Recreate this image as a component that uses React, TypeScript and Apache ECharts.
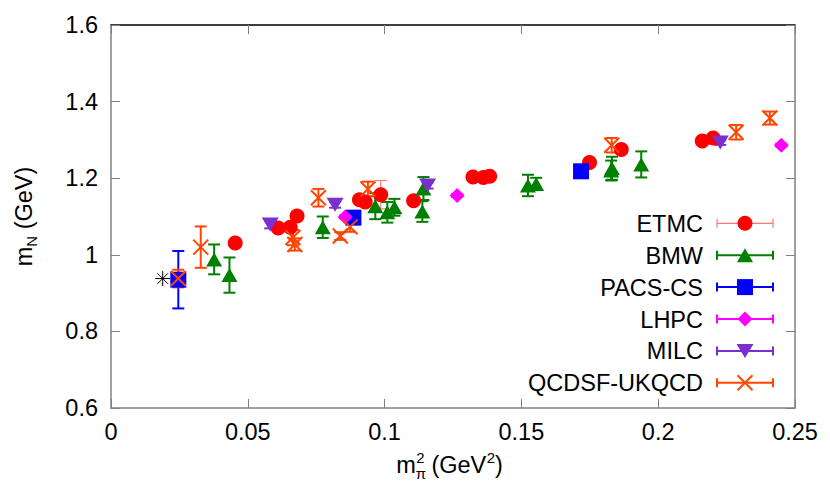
import React, { useEffect, useRef } from 'react';
import * as echarts from 'echarts';

// ---- data: [m_pi^2 (GeV^2), m_N (GeV), error] ----
const etmcPoints: [number, number, number][] = [
  [0.0454, 1.031, 0.008],
  [0.0611, 1.07, 0.01],
  [0.0655, 1.072, 0.01],
  [0.068, 1.101, 0.012],
  [0.0908, 1.144, 0.01],
  [0.0929, 1.138, 0.01],
  [0.0986, 1.157, 0.037],
  [0.1106, 1.141, 0.01],
  [0.1323, 1.203, 0.008],
  [0.1361, 1.202, 0.008],
  [0.1384, 1.205, 0.008],
  [0.1749, 1.241, 0.008],
  [0.1865, 1.275, 0.01],
  [0.2161, 1.297, 0.008],
  [0.2201, 1.305, 0.008],
];
const bmwPoints: [number, number, number][] = [
  [0.0377, 0.988, 0.039],
  [0.0433, 0.947, 0.046],
  [0.0774, 1.072, 0.028],
  [0.0966, 1.127, 0.034],
  [0.101, 1.111, 0.027],
  [0.1036, 1.124, 0.022],
  [0.1138, 1.113, 0.027],
  [0.1142, 1.173, 0.03],
  [0.1524, 1.181, 0.028],
  [0.1554, 1.185, 0.016],
  [0.1828, 1.22, 0.026],
  [0.1831, 1.226, 0.03],
  [0.1938, 1.236, 0.034],
];
const pacsPoints: [number, number, number][] = [
  [0.0246, 0.935, 0.075],
  [0.0886, 1.097, 0.012],
  [0.1718, 1.218, 0.008],
];
const lhpcPoints: [number, number, number][] = [
  [0.0856, 1.099, 0.004],
  [0.1265, 1.155, 0.004],
  [0.245, 1.286, 0.004],
];
const milcPoints: [number, number, number][] = [
  [0.0582, 1.079, 0.01],
  [0.0819, 1.131, 0.008],
  [0.1157, 1.181, 0.008],
  [0.2227, 1.293, 0.006],
];
const qcdsfPoints: [number, number, number][] = [
  [0.0246, 0.938, 0.023],
  [0.0328, 1.02, 0.054],
  [0.0665, 1.045, 0.02],
  [0.0672, 1.027, 0.016],
  [0.0758, 1.149, 0.023],
  [0.0838, 1.049, 0.01],
  [0.0874, 1.073, 0.013],
  [0.0939, 1.172, 0.019],
  [0.183, 1.286, 0.019],
  [0.2285, 1.32, 0.019],
  [0.2408, 1.357, 0.017],
];
const physicalPoint: [number, number][] = [[0.0189, 0.938]];

const legendNames = ['ETMC', 'BMW', 'PACS-CS', 'LHPC', 'MILC', 'QCDSF-UKQCD'];
const xTicks = { min: 0, max: 0.25, interval: 0.05 };
const yTicks = { min: 0.6, max: 1.6, interval: 0.2 };

// ---- styles ----
const FONT = "'Liberation Sans', Arial, Helvetica, sans-serif";
const FS = 23.5;
const SUBFS = 15;
const GRID = { left: 111, right: 35, top: 25, bottom: 90 };
const AXIS_GREY = '#808080';

type Marker = 'circle' | 'triangle' | 'square' | 'diamond' | 'invtriangle' | 'cross';
interface GroupStyle {
  color: string;
  errColor: string;
  errWidth: number;
  marker: Marker;
}
const groupStyles: GroupStyle[] = [
  { color: '#ff0000', errColor: '#ff7878', errWidth: 1.2, marker: 'circle' },
  { color: '#008000', errColor: '#008000', errWidth: 2, marker: 'triangle' },
  { color: '#0000ff', errColor: '#0000ff', errWidth: 2, marker: 'square' },
  { color: '#ff00ff', errColor: '#ff00ff', errWidth: 2, marker: 'diamond' },
  { color: '#7b2fd0', errColor: '#7b2fd0', errWidth: 2, marker: 'invtriangle' },
  { color: '#ff4500', errColor: '#ff4500', errWidth: 2, marker: 'cross' },
];
const groupData = [etmcPoints, bmwPoints, pacsPoints, lhpcPoints, milcPoints, qcdsfPoints];

const CROSS_PATH = 'path://M0 0L10 10M10 0L0 10';
const STAR_PATH = 'path://M0 5L10 5M5 0L5 10M1.5 1.5L8.5 8.5M8.5 1.5L1.5 8.5';

function scatterSymbol(m: Marker): any {
  switch (m) {
    case 'circle':
      return { symbol: 'circle', symbolSize: 15 };
    case 'triangle':
      return { symbol: 'triangle', symbolSize: [16, 14] };
    case 'square':
      return { symbol: 'rect', symbolSize: 16 };
    case 'diamond':
      return { symbol: 'diamond', symbolSize: 15 };
    case 'invtriangle':
      return { symbol: 'triangle', symbolSize: [17, 14], symbolRotate: 180 };
    case 'cross':
      return { symbol: CROSS_PATH, symbolSize: 15 };
  }
}

function legendMarker(m: Marker, cx: number, cy: number, color: string): any[] {
  switch (m) {
    case 'circle':
      return [{ type: 'circle', shape: { cx, cy, r: 7.5 }, style: { fill: color } }];
    case 'triangle':
      return [{ type: 'polygon', shape: { points: [[cx, cy - 7], [cx + 8, cy + 7], [cx - 8, cy + 7]] }, style: { fill: color } }];
    case 'square':
      return [{ type: 'rect', shape: { x: cx - 8, y: cy - 8, width: 16, height: 16 }, style: { fill: color } }];
    case 'diamond':
      return [{ type: 'polygon', shape: { points: [[cx, cy - 7.5], [cx + 7.5, cy], [cx, cy + 7.5], [cx - 7.5, cy]] }, style: { fill: color } }];
    case 'invtriangle':
      return [{ type: 'polygon', shape: { points: [[cx - 8.5, cy - 7], [cx + 8.5, cy - 7], [cx, cy + 7]] }, style: { fill: color } }];
    case 'cross':
      return [
        { type: 'line', shape: { x1: cx - 7.5, y1: cy - 7.5, x2: cx + 7.5, y2: cy + 7.5 }, style: { stroke: color, lineWidth: 2 } },
        { type: 'line', shape: { x1: cx + 7.5, y1: cy - 7.5, x2: cx - 7.5, y2: cy + 7.5 }, style: { stroke: color, lineWidth: 2 } },
      ];
  }
}

let measureCtx: CanvasRenderingContext2D | null = null;
function textWidth(t: string, fs: number): number {
  if (!measureCtx) measureCtx = document.createElement('canvas').getContext('2d');
  if (!measureCtx) return t.length * fs * 0.55;
  measureCtx.font = `${fs}px ${FONT}`;
  return measureCtx.measureText(t).width;
}

// central baseline offset for Liberation Sans (ascent .905, descent .212)
const CENTRAL = 0.3465;

function txt(text: string, x: number, baseline: number, fs: number, align = 'left'): any {
  return {
    type: 'text',
    x,
    y: baseline - CENTRAL * fs,
    silent: true,
    style: {
      text,
      fill: '#000',
      fontSize: fs,
      fontFamily: FONT,
      align,
      textAlign: align,
      verticalAlign: 'middle',
      textVerticalAlign: 'middle',
    },
  };
}

function errorBarSeries(name: string, data: [number, number, number][], st: GroupStyle): any {
  const cap = 6;
  return {
    type: 'custom',
    name: name + ' error',
    data,
    encode: { x: 0, y: 1 },
    silent: true,
    z: 2,
    renderItem: (_params: any, api: any) => {
      const x = api.value(0);
      const y = api.value(1);
      const e = api.value(2);
      const top = api.coord([x, y + e]);
      const bot = api.coord([x, y - e]);
      const style = { stroke: st.errColor, lineWidth: st.errWidth };
      return {
        type: 'group',
        children: [
          { type: 'line', shape: { x1: top[0], y1: top[1], x2: bot[0], y2: bot[1] }, style },
          { type: 'line', shape: { x1: top[0] - cap, y1: top[1], x2: top[0] + cap, y2: top[1] }, style },
          { type: 'line', shape: { x1: bot[0] - cap, y1: bot[1], x2: bot[0] + cap, y2: bot[1] }, style },
        ],
      };
    },
  };
}

function markerSeries(name: string, data: [number, number, number][], st: GroupStyle): any {
  const sym = scatterSymbol(st.marker);
  const isCross = st.marker === 'cross';
  return {
    type: 'scatter',
    name,
    data: data.map((d) => [d[0], d[1]]),
    ...sym,
    z: 3,
    silent: true,
    itemStyle: isCross
      ? { color: 'rgba(0,0,0,0)', borderColor: st.color, borderWidth: 2, opacity: 1 }
      : { color: st.color, opacity: 1 },
  };
}

function buildOption(): any {
  const series: any[] = [];
  legendNames.forEach((name, i) => {
    series.push(errorBarSeries(name, groupData[i], groupStyles[i]));
    series.push(markerSeries(name, groupData[i], groupStyles[i]));
  });
  series.push({
    type: 'scatter',
    name: 'physical point',
    data: physicalPoint,
    symbol: STAR_PATH,
    symbolSize: 15,
    z: 3,
    silent: true,
    itemStyle: { color: 'rgba(0,0,0,0)', borderColor: '#000', borderWidth: 1, opacity: 1 },
  });

  // legend (gnuplot style: right-aligned text, errorbar sample with marker)
  const legendEls: any[] = [];
  const lx = 703;
  const ly0 = 223.3;
  const ldy = 31.9;
  const sx1 = 717;
  const sx2 = 773;
  const smx = 745;
  legendNames.forEach((name, i) => {
    const cy = ly0 + i * ldy;
    const st = groupStyles[i];
    const ls = { stroke: st.errColor, lineWidth: st.errWidth };
    legendEls.push({ type: 'text', x: lx, y: cy + 0.5, silent: true, style: { text: name, fill: '#000', fontSize: FS, fontFamily: FONT, align: 'right', textAlign: 'right', verticalAlign: 'middle', textVerticalAlign: 'middle' } });
    legendEls.push({ type: 'line', shape: { x1: sx1, y1: cy, x2: sx2, y2: cy }, style: ls });
    legendEls.push({ type: 'line', shape: { x1: sx1, y1: cy - 4.5, x2: sx1, y2: cy + 4.5 }, style: ls });
    legendEls.push({ type: 'line', shape: { x1: sx2, y1: cy - 4.5, x2: sx2, y2: cy + 4.5 }, style: ls });
    legendEls.push(...legendMarker(st.marker, smx, cy, st.color));
  });

  // x axis title: m^2_pi (GeV^2)
  const xBase = 473;
  const wm = textWidth('m', FS);
  const w2 = textWidth('2', SUBFS);
  const wpi = textWidth('π', SUBFS);
  const wGeV = textWidth('(GeV', FS);
  const wSp = textWidth(' ', FS);
  const wClose = textWidth(')', FS);
  const xTotal = wm + Math.max(w2, wpi) + wSp + wGeV + w2 + wClose;
  const plotCenterX = GRID.left + (830 - GRID.left - GRID.right) / 2;
  let xx = plotCenterX - xTotal / 2 - 3;
  const xTitle: any[] = [];
  xTitle.push(txt('m', xx, xBase, FS));
  xx += wm;
  xTitle.push(txt('2', xx + 0.5, xBase - 10, SUBFS));
  xTitle.push(txt('π', xx, xBase + 5.5, SUBFS));
  xx += Math.max(w2, wpi) + wSp * 0.8;
  xTitle.push(txt('(GeV', xx, xBase, FS));
  xx += wGeV;
  xTitle.push(txt('2', xx + 0.5, xBase - 10, SUBFS));
  xx += w2 + 0.5;
  xTitle.push(txt(')', xx, xBase, FS));

  // y axis title: m_N (GeV), rotated
  const wN = textWidth('N', SUBFS);
  const wRest = textWidth(' (GeV)', FS);
  const yTotal = wm + wN + wRest;
  const plotCenterY = GRID.top + (498 - GRID.top - GRID.bottom) / 2;
  let ly = -yTotal / 2;
  const yChildren: any[] = [];
  yChildren.push(txt('m', ly, 0, FS));
  ly += wm;
  yChildren.push(txt('N', ly, 5, SUBFS));
  ly += wN;
  yChildren.push(txt(' (GeV)', ly, 0, FS));

  const axisLabel = { color: '#000', fontSize: FS, fontFamily: FONT };

  return {
    animation: false,
    backgroundColor: '#ffffff',
    textStyle: { fontFamily: FONT },
    grid: { left: GRID.left, right: GRID.right, top: GRID.top, bottom: GRID.bottom, containLabel: false },
    xAxis: [
      {
        type: 'value',
        position: 'bottom',
        min: xTicks.min,
        max: xTicks.max,
        interval: xTicks.interval,
        axisLine: { show: true, onZero: false, lineStyle: { color: AXIS_GREY, width: 1.5 } },
        axisTick: { show: true, inside: true, length: 9, lineStyle: { color: AXIS_GREY, width: 1 } },
        axisLabel: { ...axisLabel, margin: 12, formatter: (v: number) => String(+v.toFixed(2)) },
        splitLine: { show: false },
      },
      {
        type: 'value',
        position: 'top',
        min: xTicks.min,
        max: xTicks.max,
        interval: xTicks.interval,
        axisLine: { show: true, onZero: false, lineStyle: { color: '#000', width: 1.5 } },
        axisTick: { show: true, inside: true, length: 9, lineStyle: { color: AXIS_GREY, width: 1 } },
        axisLabel: { show: false },
        splitLine: { show: false },
      },
    ],
    yAxis: [
      {
        type: 'value',
        position: 'left',
        min: yTicks.min,
        max: yTicks.max,
        interval: yTicks.interval,
        axisLine: { show: true, onZero: false, lineStyle: { color: AXIS_GREY, width: 1.5 } },
        axisTick: { show: true, inside: true, length: 9, lineStyle: { color: AXIS_GREY, width: 1 } },
        axisLabel: { ...axisLabel, margin: 13, formatter: (v: number) => String(+v.toFixed(1)) },
        splitLine: { show: false },
      },
      {
        type: 'value',
        position: 'right',
        min: yTicks.min,
        max: yTicks.max,
        interval: yTicks.interval,
        axisLine: { show: true, onZero: false, lineStyle: { color: AXIS_GREY, width: 1.5 } },
        axisTick: { show: true, inside: true, length: 9, lineStyle: { color: AXIS_GREY, width: 1 } },
        axisLabel: { show: false },
        splitLine: { show: false },
      },
    ],
    series,
    graphic: [
      { type: 'group', silent: true, children: legendEls },
      { type: 'group', silent: true, children: xTitle },
      { type: 'group', silent: true, x: 32, y: plotCenterY, rotation: Math.PI / 2, children: yChildren },
    ],
  };
}

export default function App() {
  const ref = useRef<HTMLDivElement>(null);
  useEffect(() => {
    if (!ref.current) return;
    const chart = echarts.init(ref.current, undefined, { renderer: 'svg' });
    chart.setOption(buildOption());
    return () => chart.dispose();
  }, []);
  return (
    <div
      ref={ref}
      style={{ position: 'fixed', left: 0, top: 0, width: 830, height: 498, background: '#fff' }}
    />
  );
}
